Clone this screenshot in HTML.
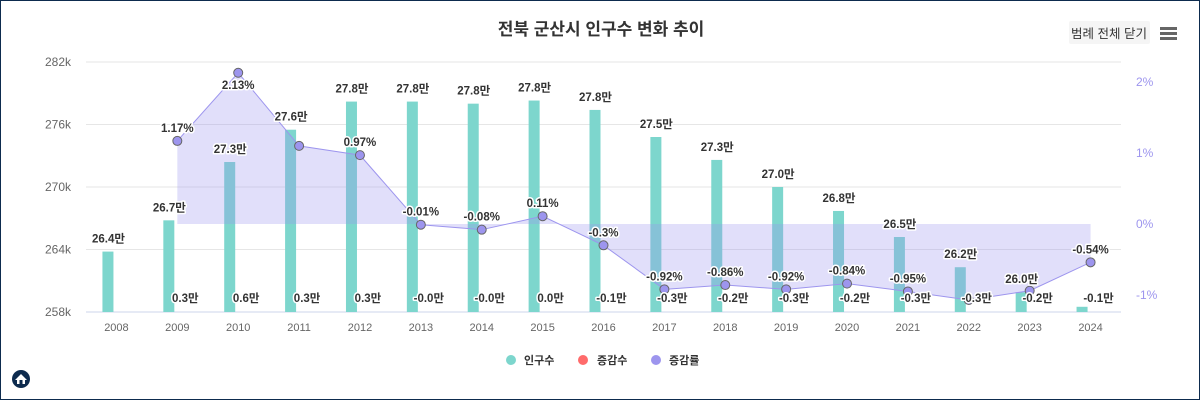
<!DOCTYPE html>
<html><head><meta charset="utf-8">
<style>
html,body{margin:0;padding:0;background:#fff;}
#wrap{position:relative;width:1198px;height:398px;border:1px solid #0d2b4e;overflow:hidden;font-family:"Liberation Sans","Noto Sans CJK KR",sans-serif;}
svg text{font-family:"Liberation Sans","Noto Sans CJK KR",sans-serif;}
</style></head><body>
<div id="wrap">
<svg id="chart" width="1198" height="398" xmlns="http://www.w3.org/2000/svg">
  <text x="600" y="34" text-anchor="middle" font-size="17" font-weight="600" fill="#333">전북 군산시 인구수 변화 추이</text>
  <g>
    <rect x="1068" y="20" width="81" height="23" rx="2" fill="#f5f5f5"/>
    <text x="1108" y="37" text-anchor="middle" font-size="12.5" fill="#333">범례 전체 닫기</text>
  </g>
  <g fill="#666">
    <rect x="1159" y="26" width="17" height="3"/><rect x="1159" y="31" width="17" height="3"/><rect x="1159" y="36" width="17" height="3"/>
  </g>
  <g id="grid"></g><g id="bars"></g><g id="area"></g><g id="line"></g><g id="labels"></g>
  <g>
    <g><circle cx="510" cy="359" r="5" fill="#7dd6cd"/><text x="523" y="363" font-size="11" font-weight="bold" fill="#333">인구수</text></g>
    <g><circle cx="582" cy="359" r="5" fill="#ff6b6b"/><text x="596" y="363" font-size="11" font-weight="bold" fill="#333">증감수</text></g>
    <g><circle cx="655" cy="359" r="5" fill="#9d95ee"/><text x="668" y="363" font-size="11" font-weight="bold" fill="#333">증감률</text></g>
  </g>
  <g>
    <circle cx="20" cy="378" r="9" fill="#0d2b4e"/>
    <path d="M14 379 L20 373 L26 379 L24 379 L24 383 L16 383 L16 379 Z" fill="#fff"/>
    <rect x="18.5" y="379" width="3" height="4" fill="#0d2b4e"/>
  </g>
</svg>
</div>
<script>
const years=[2008,2009,2010,2011,2012,2013,2014,2015,2016,2017,2018,2019,2020,2021,2022,2023,2024];
const population=[263.8,266.8,272.4,275.5,278.2,278.2,278.0,278.3,277.4,274.8,272.6,270.0,267.7,265.2,262.3,259.9,258.5];
const popLabels=["26.4만","26.7만","27.3만","27.6만","27.8만","27.8만","27.8만","27.8만","27.8만","27.5만","27.3만","27.0만","26.8만","26.5만","26.2만","26.0만",""];
const changeLabels=["","0.3만","0.6만","0.3만","0.3만","-0.0만","-0.0만","0.0만","-0.1만","-0.3만","-0.2만","-0.3만","-0.2만","-0.3만","-0.3만","-0.2만","-0.1만"];
const rates=[null,1.17,2.13,1.10,0.97,-0.01,-0.08,0.11,-0.3,-0.92,-0.86,-0.92,-0.84,-0.95,-1.07,-0.94,-0.54];
const rateLabels=["","1.17%","2.13%","","0.97%","-0.01%","-0.08%","0.11%","-0.3%","-0.92%","-0.86%","-0.92%","-0.84%","-0.95%","","","-0.54%"];
const leftTicks=[258,264,270,276,282];
const rightTicks=[-1,0,1,2];

const NS="http://www.w3.org/2000/svg";
const X0=85,X1=1120,step=(X1-X0)/years.length;
const xc=i=>X0+step*(i+0.5);
const yL=v=>311-(v-258)*250/24;
const yR=v=>223-v*71;
function mk(tag,attrs,parent,txt){const e=document.createElementNS(NS,tag);for(const k in attrs)e.setAttribute(k,attrs[k]);if(txt!==undefined)e.textContent=txt;parent.appendChild(e);return e;}
const G=id=>document.getElementById(id);

leftTicks.forEach(t=>{
  const l=mk('line',{x1:X0,x2:X1,y1:yL(t),y2:yL(t),stroke:t===258?'#ccd6eb':'#e6e6e6','stroke-width':1},G('grid'));
  
  
  const tx=mk('text',{x:70,y:yL(t)+4,'text-anchor':'end','font-size':12,fill:'#666'},G('grid'),t+'k');
  
  
});
rightTicks.forEach(t=>{
  const tx=mk('text',{x:1135,y:yR(t)+4,'font-size':12,fill:'#9d95ee'},G('grid'),t+'%');
  
  
});
years.forEach((y,i)=>{
  const tx=mk('text',{x:xc(i),y:330,'text-anchor':'middle','font-size':11,fill:'#666'},G('grid'),y);
  
  
});

population.forEach((v,i)=>{
  const b=mk('rect',{x:xc(i)-14,y:yL(v),width:11,height:311-yL(v),fill:'#7dd6cd'},G('bars'));
  
  
});

let pts=[];rates.forEach((r,i)=>{if(r!==null)pts.push([xc(i),yR(r)]);});
const areaD='M'+pts[0][0]+','+yR(0)+' '+pts.map(p=>'L'+p[0]+','+p[1]).join(' ')+' L'+pts[pts.length-1][0]+','+yR(0)+'Z';
const ar=mk('path',{d:areaD,fill:'rgba(157,149,238,0.3)'},G('area'));



const ln=mk('path',{d:'M'+pts.map(p=>p[0]+','+p[1]).join(' L'),fill:'none',stroke:'#9d95ee','stroke-width':1},G('line'));


rates.forEach((r,i)=>{if(r===null)return;
  const c=mk('circle',{cx:xc(i),cy:yR(r),r:4.5,fill:'#9d95ee',stroke:'#666','stroke-width':1},G('line'));
  
  
});
const st='paint-order:stroke;stroke:#fff;stroke-width:3px;stroke-linejoin:round;';
popLabels.forEach((t,i)=>{if(!t)return;
  const tx=mk('text',{x:xc(i)-8,y:yL(population[i])-9,'text-anchor':'middle','font-size':11.5,'font-weight':'bold',fill:'#333',style:st},G('labels'),t);
  
  
});
changeLabels.forEach((t,i)=>{if(!t)return;
  const tx=mk('text',{x:xc(i)+8,y:301,'text-anchor':'middle','font-size':11.5,'font-weight':'bold',fill:'#333',style:st},G('labels'),t);
  
  
});
rateLabels.forEach((t,i)=>{if(!t)return;
  const tx=mk('text',{x:xc(i),y:yR(rates[i])-(i===2?-16:9),'text-anchor':'middle','font-size':11.5,'font-weight':'bold',fill:'#333',style:st},G('labels'),t);
  
  
});
</script>
</body></html>
